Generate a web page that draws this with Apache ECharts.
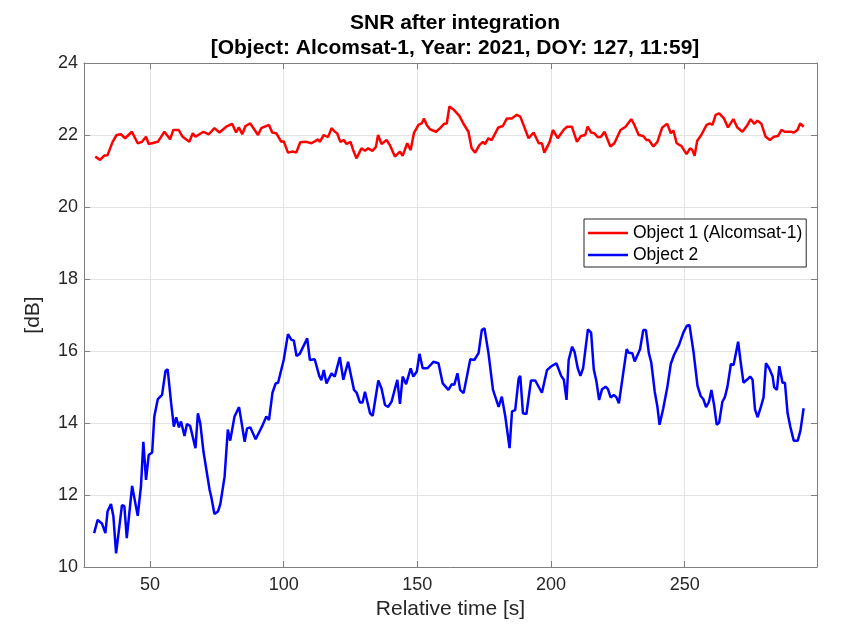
<!DOCTYPE html>
<html>
<head>
<meta charset="utf-8">
<script src="https://cdn.jsdelivr.net/npm/echarts@6/dist/echarts.min.js"></script>
<style>html,body{margin:0;padding:0;background:#fff}#c{width:843px;height:628px}</style>
</head>
<body>
<div id="c"></div>
<script>
const titleLines = ['SNR after integration', '[Object: Alcomsat-1, Year: 2021, DOY: 127, 11:59]'];
const xName = 'Relative time [s]';
const yName = '[dB]';
const seriesNames = ['Object 1 (Alcomsat-1)', 'Object 2'];

const obj1Time = [29.5,31.3,32.9,34.1,36,37.5,39.1,40.7,43.2,45.4,47,48.5,49.5,52.9,55.4,57.5,58.7,60.7,62.2,64.7,66,67,70,72,74.1,76,78.5,80.7,82.2,83.2,84.5,85.7,87.5,90.4,91.6,94.5,95.7,97.2,99.1,100,101.6,103.5,104.7,106.2,108.5,110.4,112.9,113.5,115,116.6,117.9,119.1,120,121.2,122.5,123.5,125,126,127.2,129.1,130.4,131.6,133.2,134.5,135.3,136.6,138.5,139.7,141.6,143.5,144.5,146.2,147.5,148.7,150.4,151.6,152.5,153.5,154.7,157,158.5,160,161,162,163.5,164.1,165.7,167.2,169.1,170.3,171.6,173.2,174.5,175.3,176.6,177.8,180.3,182,183.5,185.3,187.2,188.5,189.7,191.6,193.5,195.4,196.6,197.5,199.5,200.7,202.5,204.7,206,207.8,209.7,211.2,212.8,213.7,215,216.2,217.5,218.7,220,222.2,223.7,226,227.9,230,231.2,232.8,234.5,235.7,236.6,238.3,239.8,241.6,243.5,244.8,245.8,247,248.8,250.7,252,252.9,253.7,254.7,256.2,258.2,259.5,260.4,261.6,262.9,264.7,266.2,268.2,269.7,271.6,273.5,274.7,276,277.2,278.7,280.3,281.9,283.4,284.9,286.2,287.4,289.7,290.9,292.2,293.2,294.5];
const obj1Snr = [21.40,21.31,21.43,21.44,21.81,22.0,22.02,21.91,22.09,21.77,21.81,21.95,21.75,21.81,22.09,21.88,22.14,22.14,21.95,21.81,22.05,21.95,22.09,22.02,22.19,22.07,22.23,22.31,22.07,22.21,22.02,22.25,22.32,22.0,22.19,22.28,22.07,22.05,21.81,21.83,21.51,21.54,21.51,21.80,21.81,21.77,21.88,21.81,22.0,21.94,22.19,22.09,22.05,21.81,21.86,21.75,21.81,21.58,21.35,21.63,21.56,21.63,21.56,21.67,22.0,21.75,21.86,21.72,21.40,21.54,21.42,21.77,21.58,22.05,22.28,22.32,22.46,22.28,22.16,22.09,22.19,22.31,22.32,22.79,22.71,22.71,22.53,22.32,22.09,21.63,21.51,21.72,21.81,21.75,21.91,21.86,22.21,22.25,22.46,22.46,22.56,22.51,22.28,21.91,22.07,21.77,21.77,21.51,21.81,22.14,21.91,22.14,22.23,22.23,21.81,21.97,22.0,22.23,22.07,22.05,21.94,21.95,22.09,21.68,21.77,22.14,22.23,22.44,22.28,22.0,21.97,21.86,21.86,21.68,21.81,22.21,22.31,22.05,22.12,21.77,21.69,21.47,21.63,21.58,21.42,21.84,22.0,22.28,22.32,22.28,22.56,22.60,22.46,22.21,22.44,22.21,22.09,22.28,22.44,22.31,22.40,22.31,21.95,21.86,21.95,21.97,22.14,22.09,22.09,22.07,22.14,22.32,22.23];

const obj2Time = [29.1,30.4,32,33.3,34.1,35.4,36.3,37.3,39.5,40.4,41.3,43.3,45.4,46.6,47.5,48.5,49.5,50.8,51.6,52.9,54.5,55.8,56.6,57.9,58.9,59.8,60.8,61.6,62.9,63.8,65,67,67.9,68.8,70,72.3,72.9,74.1,75.4,76.3,77.9,79.1,80,81.6,83.3,84.1,85.4,86.3,87.5,89.5,92,93.5,94.5,95.8,97,97.9,100,101.6,102.9,103.8,104.8,106,108.8,109.8,111.6,113.3,114.1,115,116,117.9,119.1,121,122.3,124.1,126.3,127.3,128.5,129.5,130.4,132.3,133.3,135.4,136.6,137.9,139.1,140.4,142.5,143.5,144.5,145.8,147.5,148.5,149.8,150.8,152,153.8,156,157.9,159.5,161.6,162.9,163.8,165,166,167.3,169.8,171.3,172.9,174.1,175.1,176.6,178.3,180.4,181.6,182.9,184.5,185.4,186.6,187.9,188.5,189.5,190.8,192.5,194.1,194.8,196.6,198.5,200,202,203.8,204.8,205.8,206.6,207.9,208.8,210,211,212,213.8,215,216,217,218,219.1,220.4,221.3,222.3,223.5,224.5,225.4,227,228.3,229.1,230.4,231.3,233.3,234.5,235.5,236.6,237.5,238.8,239.8,240.6,242,243.5,244.8,246,246.6,247.9,249.5,250.8,251.8,253.3,254.8,256,257,258,259.1,260,261,262,262.9,264.1,265,266,267.3,268.3,270,271,272,273.3,274.5,275.4,276.3,277.3,278.5,279.5,280.4,281.6,282.9,283.5,284.5,285.4,286.6,287.5,288.5,289.5,290.8,292.3,293.3,294.5];
const obj2Snr = [10.94,11.31,11.21,10.94,11.54,11.75,11.40,10.38,11.72,11.69,10.80,12.25,11.42,12.23,13.48,12.42,13.11,13.18,14.18,14.66,14.78,15.45,15.49,14.55,13.90,14.16,13.88,14.04,13.64,13.97,13.92,13.30,14.27,13.99,13.20,12.14,11.95,11.47,11.54,11.75,12.51,13.82,13.51,14.18,14.44,14.08,13.48,13.85,13.88,13.55,13.92,14.18,14.08,14.84,15.10,15.12,15.75,16.47,16.31,16.29,15.86,15.92,16.35,15.75,15.77,15.31,15.19,15.47,15.10,15.38,15.29,15.83,15.20,15.70,14.92,14.84,14.57,14.57,14.87,14.27,14.20,15.18,14.96,14.50,14.45,14.60,15.20,14.53,15.29,15.08,15.52,15.29,15.43,15.92,15.52,15.52,15.70,15.66,15.10,14.92,15.08,15.06,15.38,14.92,14.83,15.77,15.75,15.94,16.58,16.63,15.94,14.92,14.45,14.73,14.18,13.30,14.32,14.36,15.24,15.31,14.27,14.25,15.18,15.18,15.21,14.84,15.47,15.57,15.66,15.31,15.20,14.64,15.75,16.12,15.98,15.52,15.31,15.52,16.60,16.51,15.49,15.15,14.64,14.94,15.01,14.94,14.71,14.78,14.71,14.55,15.38,16.05,15.95,15.94,15.71,16.05,16.58,16.58,15.94,15.68,14.87,14.45,13.95,14.41,14.99,15.64,15.89,15.94,16.17,16.51,16.70,16.72,15.98,15.03,14.75,14.66,14.44,14.59,14.92,14.50,13.95,14.01,14.59,14.71,15.01,15.64,15.61,16.26,15.66,15.12,15.20,15.29,15.20,14.38,14.16,14.45,14.71,15.66,15.52,15.29,14.99,14.92,15.58,15.12,15.12,14.27,13.90,13.51,13.51,13.79,14.41];

const xMin = 25.3, xMax = 299.5;
const yMin = 10, yMax = 24, yStep = 2;

const pairs = (xs, ys) => xs.map((x, i) => [x, ys[i]]);
const fontFam = '"Liberation Sans", Arial, Helvetica, sans-serif';
const axisGray = '#7f7f7f';
const textCol = '#262626';
const gridCol = '#e3e3e3';

const chart = echarts.init(document.getElementById('c'), null, {renderer: 'canvas'});
const baseX = {
  type: 'value', min: xMin, max: xMax, splitNumber: 5,
  axisLine: {show: true, onZero: false, lineStyle: {color: axisGray, width: 1}},
  axisTick: {show: true, inside: true, length: 6, lineStyle: {color: axisGray}},
};
const baseY = {
  type: 'value', min: yMin, max: yMax, interval: yStep,
  axisLine: {show: true, onZero: false, lineStyle: {color: axisGray, width: 1}},
  axisTick: {show: true, inside: true, length: 6, lineStyle: {color: axisGray}},
};
chart.setOption({
  animation: false,
  backgroundColor: '#ffffff',
  textStyle: {fontFamily: fontFam},
  title: {
    text: titleLines.join('\n'),
    left: 450, textAlign: 'center', top: 6,
    textStyle: {fontSize: 21, fontWeight: 'bold', color: '#000', fontFamily: fontFam, lineHeight: 25}
  },
  grid: {left: 84, right: 26, top: 63, bottom: 61, containLabel: false},
  legend: {
    data: seriesNames,
    orient: 'vertical', left: 584, top: 219,
    icon: 'rect', itemWidth: 40, itemHeight: 2.5, itemGap: 2,
    padding: [4, 4, 2, 4],
    backgroundColor: '#fff', borderColor: '#262626', borderWidth: 1,
    textStyle: {fontSize: 17.5, color: '#000', fontFamily: fontFam, lineHeight: 20}
  },
  xAxis: [
    Object.assign({}, baseX, {
      position: 'bottom',
      name: xName, nameLocation: 'middle', nameGap: 30,
      nameTextStyle: {fontSize: 21, color: textCol, fontFamily: fontFam},
      axisLabel: {fontSize: 18, color: textCol, margin: 9, showMinLabel: false, showMaxLabel: false,
        formatter: v => (Math.abs(v % 50) < 1e-6 ? String(v) : '')},
      splitLine: {show: true, lineStyle: {color: gridCol, width: 1}}
    }),
    Object.assign({}, baseX, {
      position: 'top', axisLabel: {show: false}, splitLine: {show: false}
    })
  ],
  yAxis: [
    Object.assign({}, baseY, {
      position: 'left',
      name: yName, nameLocation: 'middle', nameGap: 40, nameRotate: 90,
      nameTextStyle: {fontSize: 21, color: textCol, fontFamily: fontFam},
      axisLabel: {fontSize: 18, color: textCol, margin: 6},
      splitLine: {show: true, lineStyle: {color: gridCol, width: 1}}
    }),
    Object.assign({}, baseY, {
      position: 'right', axisLabel: {show: false}, splitLine: {show: false}
    })
  ],
  series: [
    {name: seriesNames[0], type: 'line', xAxisIndex: 0, yAxisIndex: 0,
     data: pairs(obj1Time, obj1Snr), showSymbol: false, symbol: 'none',
     lineStyle: {color: '#ff0000', width: 2.5}, itemStyle: {color: '#ff0000'}},
    {name: seriesNames[1], type: 'line', xAxisIndex: 0, yAxisIndex: 0,
     data: pairs(obj2Time, obj2Snr), showSymbol: false, symbol: 'none',
     lineStyle: {color: '#0000ff', width: 2.5}, itemStyle: {color: '#0000ff'}}
  ]
});
</script>
</body>
</html>
